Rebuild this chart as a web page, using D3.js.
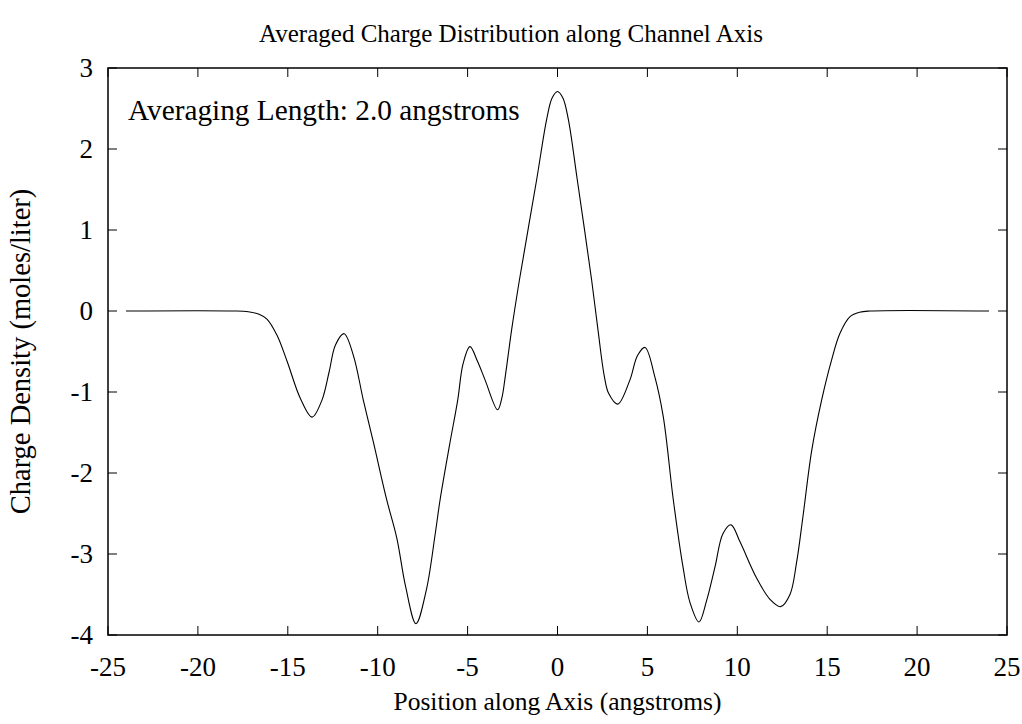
<!DOCTYPE html>
<html>
<head>
<meta charset="utf-8">
<script src="https://cdn.jsdelivr.net/npm/d3@7"></script>
<style>
  body { margin: 0; background: #fff; }
  text { font-family: "Liberation Serif", "Times New Roman", serif; fill: #000; }
</style>
</head>
<body>
<script>
// positions along the channel axis (angstroms)
const positions = [
  -24, -18, -17.2, -16.6, -16.16, -15.6, -15.04, -14.3, -13.65, -13.1, -12.7, -12.35, -11.87,
  -11.35, -10.8, -10.24, -9.5, -8.94, -8.45, -7.87, -7.3, -6.8, -6.53, -6.0, -5.55, -5.25,
  -4.87, -4.45, -4.03, -3.33, -3.1, -2.9, -2.55, -2.12, -1.16, -0.6, -0.3, 0, 0.3, 0.6, 1.1,
  1.9, 2.25, 2.6, 2.85, 3.35, 4.03, 4.45, 4.87, 5.4, 5.88, 6.44, 6.98, 7.37, 7.87, 8.3, 8.76,
  9.2, 9.65, 10.15, 11.08, 11.82, 12.41, 12.93, 13.3, 13.65, 14.14, 14.69, 15.25, 15.7, 16.27,
  16.8, 17.4, 24
];
// averaged charge density (moles/liter)
const density = [
  0, 0, -0.01, -0.04, -0.1, -0.3, -0.62, -1.08, -1.31, -1.1, -0.75, -0.42, -0.28,
  -0.55, -1.1, -1.62, -2.33, -2.8, -3.4, -3.86, -3.45, -2.75, -2.33, -1.65, -1.1, -0.65,
  -0.44, -0.62, -0.85, -1.22, -1.08, -0.8, -0.23, 0.38, 1.62, 2.37, 2.63, 2.71, 2.63, 2.37, 1.62,
  0.38, -0.23, -0.8, -1.02, -1.15, -0.85, -0.55, -0.45, -0.8, -1.3, -2.33, -3.16, -3.6, -3.84, -3.57, -3.16,
  -2.75, -2.64, -2.85, -3.3, -3.56, -3.65, -3.5, -3.1, -2.54, -1.72, -1.1, -0.6, -0.28, -0.07,
  -0.015, 0, 0
];
const xTicks = [-25, -20, -15, -10, -5, 0, 5, 10, 15, 20, 25];
const yTicks = [-4, -3, -2, -1, 0, 1, 2, 3];

const width = 1022, height = 724;
const plot = { left: 108, right: 1007, top: 68, bottom: 635 };

const svg = d3.select("body").append("svg")
  .attr("width", width)
  .attr("height", height);

const x = d3.scaleLinear().domain([-25, 25]).range([plot.left, plot.right]);
const y = d3.scaleLinear().domain([-4, 3]).range([plot.bottom, plot.top]);

const tickLen = 9;

// inward ticks on all four sides
const axisG = svg.append("g").attr("stroke", "#000").attr("stroke-width", 1);
xTicks.forEach((t) => {
  axisG.append("line").attr("x1", x(t)).attr("x2", x(t)).attr("y1", plot.bottom).attr("y2", plot.bottom - tickLen);
  axisG.append("line").attr("x1", x(t)).attr("x2", x(t)).attr("y1", plot.top).attr("y2", plot.top + tickLen);
});
yTicks.forEach((t) => {
  axisG.append("line").attr("x1", plot.left).attr("x2", plot.left + tickLen).attr("y1", y(t)).attr("y2", y(t));
  axisG.append("line").attr("x1", plot.right).attr("x2", plot.right - tickLen).attr("y1", y(t)).attr("y2", y(t));
});

// tick labels
svg.append("g").selectAll("text").data(xTicks).enter().append("text")
  .attr("x", (d) => x(d))
  .attr("y", plot.bottom + 41)
  .attr("text-anchor", "middle")
  .attr("font-size", "27px")
  .text((d) => d);
svg.append("g").selectAll("text").data(yTicks).enter().append("text")
  .attr("x", plot.left - 15)
  .attr("y", (d) => y(d) + 9)
  .attr("text-anchor", "end")
  .attr("font-size", "27px")
  .text((d) => d);

// curve
const pts = positions.map((p, i) => [p, density[i]]);
const line = d3.line()
  .x((d) => x(d[0]))
  .y((d) => y(d[1]))
  .curve(d3.curveCatmullRom.alpha(0.5));
svg.append("path")
  .datum(pts)
  .attr("fill", "none")
  .attr("stroke", "#000")
  .attr("stroke-width", 1.1)
  .attr("d", line);

// frame
svg.append("rect")
  .attr("x", plot.left).attr("y", plot.top)
  .attr("width", plot.right - plot.left).attr("height", plot.bottom - plot.top)
  .attr("fill", "none").attr("stroke", "#000").attr("stroke-width", 1.5);

// titles
svg.append("text")
  .attr("x", width / 2).attr("y", 42)
  .attr("text-anchor", "middle")
  .attr("font-size", "25px")
  .text("Averaged Charge Distribution along Channel Axis");
svg.append("text")
  .attr("x", (plot.left + plot.right) / 2).attr("y", 710)
  .attr("text-anchor", "middle")
  .attr("font-size", "25.5px")
  .text("Position along Axis (angstroms)");
svg.append("text")
  .attr("transform", `translate(30, ${(plot.top + plot.bottom) / 2}) rotate(-90)`)
  .attr("text-anchor", "middle")
  .attr("font-size", "28.5px")
  .text("Charge Density (moles/liter)");
svg.append("text")
  .attr("x", 128).attr("y", 120)
  .attr("font-size", "29.3px")
  .text("Averaging Length: 2.0 angstroms");
</script>
</body>
</html>
